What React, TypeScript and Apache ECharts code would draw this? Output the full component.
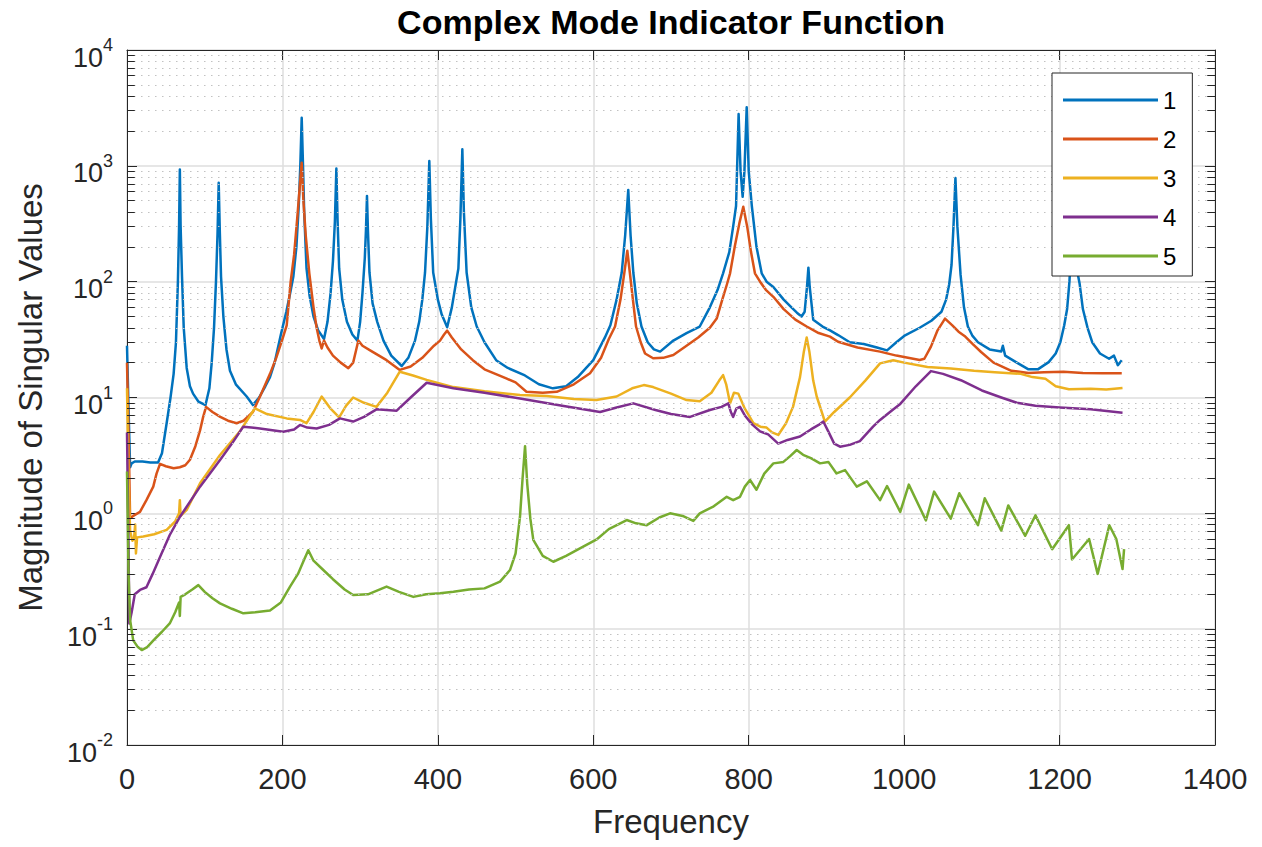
import React, { useEffect, useRef } from 'react';
import * as echarts from 'echarts';

const seriesNames = ['1', '2', '3', '4', '5'];
const seriesColors = ['#0072BD', '#D95319', '#EDB120', '#7E2F8E', '#77AC30'];

const xTickMin = 0;
const xTickMax = 1400;
const xTickStep = 200;
const yMin = 0.01;
const yMax = 10000;
const minorMultipliers = [2, 3, 4, 5, 6, 7, 8, 9];
const decadeStarts = [0.01, 0.1, 1, 10, 100, 1000];

// Singular value 1 (blue)
const sv1: [number, number][] = [
  [0, 28], [2, 8], [4, 2.5], [6, 2.7], [10, 2.8], [20, 2.8], [30, 2.75], [40, 2.75], [45, 3.3], [51, 6], [56, 10], [60, 16],
  [63, 30], [65.5, 100], [67, 300], [68, 930], [69, 300], [70.8, 110], [73, 40], [76.8, 18], [81, 12.5], [85, 10.8], [92, 9.2],
  [101, 8.6], [106, 12], [109, 20], [112, 40], [114.5, 100], [116.5, 260], [118, 715], [119.5, 260], [121, 110], [124, 50],
  [128, 26], [132.5, 17], [140, 13], [154, 10.2], [162, 8.6], [170, 10], [178, 12.5], [184, 15], [190, 20], [198, 35],
  [205, 55], [210, 80], [214, 110], [218, 200], [221, 450], [223, 1000], [224.8, 2600], [226.5, 1000], [228, 400], [231, 130],
  [235, 75], [240, 50], [246, 38], [253.5, 32], [258, 45], [262, 80], [265, 150], [267.5, 330], [269.4, 950], [271, 330],
  [273, 130], [277, 70], [283, 45], [290, 35], [296.5, 31], [300, 45], [303, 80], [306, 160], [307.5, 280], [308.8, 550],
  [310, 280], [312, 120], [316, 65], [322, 45], [330, 31], [340, 23], [353.5, 18.7], [362, 22], [370.6, 31], [376, 45],
  [380, 70], [383.5, 120], [386.5, 300], [389, 1100], [391, 350], [394, 120], [400, 70], [405, 52], [412, 40.4], [418, 60],
  [423, 95], [426.4, 130], [429, 350], [431.5, 1390], [433.5, 400], [437, 120], [443, 60], [450, 41], [460, 30], [475, 21],
  [490, 18], [512, 15.5], [530, 13], [548, 12], [565, 12.5], [580, 15], [600, 21], [615, 33], [622, 42], [630, 70],
  [636.6, 120], [641, 250], [645, 620], [648, 250], [651.5, 120], [656, 65], [662, 41], [670, 30], [678, 26], [686, 24.9],
  [703, 31], [720, 36], [737, 41], [750, 60], [760, 85], [767, 118], [775, 180], [780, 300], [783.7, 450], [787, 2800],
  [789.5, 900], [792.2, 540], [794.5, 900], [797.4, 3200], [800, 900], [804, 450], [810, 200], [816.7, 118], [823, 100],
  [831.7, 90], [845, 70], [855, 60], [862, 54], [868, 50], [872, 55], [875, 90], [876.8, 132], [878.5, 90], [883, 47],
  [895, 41], [904.6, 38], [915, 34.6], [930, 30], [948, 29], [965, 27], [978, 25.5], [990, 30], [1000, 34], [1020, 40],
  [1035, 46], [1048, 55], [1054, 70], [1058, 95], [1061, 140], [1063.5, 300], [1066, 785], [1068.5, 300], [1072.6, 115],
  [1077, 60], [1082, 41], [1088, 34], [1095, 30], [1110, 26], [1125, 25], [1127, 28], [1130, 23], [1145, 20], [1160, 17.5],
  [1172, 17.5], [1186, 20.2], [1195, 24], [1201, 30], [1206, 42], [1209.7, 58], [1212.7, 100], [1215, 200], [1217, 400],
  [1219.5, 200], [1222, 130], [1225.7, 97], [1230, 58], [1236, 40], [1242, 30], [1252, 24], [1263.7, 21.6], [1270, 23],
  [1275, 19], [1280, 21],
];

// Singular value 2 (orange)
const sv2: [number, number][] = [
  [0, 20], [2, 5], [4, 0.9], [8, 0.95], [16.7, 1.03], [25, 1.3], [33.8, 1.7], [38, 2.2], [42.5, 2.67], [50, 2.55], [60, 2.45],
  [68, 2.5], [75, 2.6], [81, 2.9], [88, 3.8], [94, 5.2], [98, 6.8], [101.7, 8.3], [110, 7.5], [120, 6.8], [130, 6.3], [141, 6],
  [150, 6.3], [162, 7.5], [172, 10.5], [184, 16], [192, 22], [200, 32], [205.5, 42], [210.6, 100], [215, 170], [219, 350],
  [222.6, 700], [224.8, 1064], [227, 500], [230, 250], [234.6, 118], [240, 60], [244, 40], [247.5, 31], [250.5, 26.5],
  [253.5, 31], [258, 27], [265, 23], [275, 20], [284.8, 17.9], [291, 20], [295, 26], [297.7, 31], [303, 28], [315, 25],
  [334, 21], [351, 17.3], [365, 18.5], [380, 22], [395, 28], [402.8, 31], [408, 35], [412, 37.8], [418, 33], [430, 26],
  [445, 21], [460, 17.5], [488, 14.6], [500, 13.5], [514, 11.2], [535, 11], [553, 11.2], [575, 13], [595.8, 16.2], [610, 22],
  [620, 32], [628, 41], [635, 70], [640, 120], [643.8, 185], [647, 120], [651, 70], [655, 41], [661, 30], [666.6, 24],
  [677, 21.8], [690, 22], [703, 23.3], [720, 28], [735, 33], [750, 40], [758.8, 48], [766, 70], [772, 95], [776, 118],
  [782, 200], [788, 320], [793, 444], [798, 300], [803, 180], [808, 118], [814.6, 100], [822, 85], [831.7, 74], [845, 58],
  [860, 47], [874.6, 41], [890, 36], [904.6, 33.5], [915, 30.3], [940, 27], [969, 24.9], [990, 23], [1005, 22], [1020, 21.1],
  [1026, 21.6], [1034.5, 27.5], [1043, 38], [1052.6, 48], [1062, 42], [1070, 37], [1077.7, 34], [1088, 29], [1099, 24.7],
  [1115, 20], [1138, 17], [1160, 16.3], [1180, 16.5], [1205, 16.7], [1230, 16.3], [1255, 16.2], [1280, 16.2],
];

// Singular value 3 (yellow)
const sv3: [number, number][] = [
  [0, 12], [2, 2], [4, 0.7], [7, 0.58], [9, 0.6], [10.5, 0.8], [11.5, 0.45], [13, 0.62], [21, 0.63], [35, 0.66], [51, 0.72],
  [62, 0.85], [67, 1.0], [68, 1.3], [69, 0.95], [76.8, 1.07], [94, 1.82], [119.7, 3.19], [145, 5.07], [164.7, 8.07], [180, 7.2],
  [205.5, 6.6], [222.6, 6.4], [231, 6.0], [240, 7.5], [250.5, 10.2], [262, 8], [273, 6.75], [282, 8.5], [291, 10], [305, 9],
  [321, 8.3], [335, 11], [351, 16.7], [368, 15.5], [385.6, 14.2], [420, 12.3], [460, 11.3], [505.7, 10.5], [540, 10.3],
  [575, 9.7], [604, 9.5], [630, 10.2], [650, 12], [665, 12.8], [677, 12.3], [700, 10.8], [720, 9.5], [737, 9.3], [752, 11],
  [762, 14], [767, 15.6], [771, 13], [776, 8.9], [781, 11], [786.6, 10.8], [795, 8], [806, 6.0], [815, 5.6], [823, 5.5],
  [830, 5.0], [838, 4.75], [848, 6], [857, 8.3], [866, 15], [871, 25], [874.6, 33], [878, 25], [883, 14], [887.5, 10.2],
  [898, 6.2], [910, 7.5], [930, 10], [950, 14], [969, 19.7], [986, 21], [1000, 20], [1030, 18.3], [1060, 17.8], [1090, 17],
  [1116.7, 16.5], [1150, 16], [1165, 15], [1181.8, 14.5], [1195, 12.5], [1212, 11.8], [1240, 11.9], [1260, 11.7], [1281, 12.1],
];

// Singular value 4 (purple)
const sv4: [number, number][] = [
  [0, 5], [2, 0.5], [3, 0.112], [6, 0.14], [10, 0.2], [16.7, 0.218], [25, 0.23], [33, 0.3], [42.5, 0.42], [55, 0.65],
  [68.2, 0.935], [94, 1.7], [119.7, 2.88], [135, 4], [149.7, 5.6], [160, 5.5], [171, 5.4], [201, 5.07], [215, 5.3],
  [222.6, 5.8], [232, 5.5], [244, 5.4], [260, 5.8], [274, 6.6], [291, 6.2], [305, 6.8], [321, 7.9], [347, 7.7], [365, 10],
  [385.6, 13.4], [420, 12], [460, 11], [505.7, 9.8], [560, 8.5], [608.7, 7.5], [630, 8.2], [651.5, 8.9], [680, 7.8], [700, 7.2],
  [724.5, 6.8], [750, 7.8], [765, 8.3], [773.8, 8.9], [777, 7.5], [780, 6.8], [784, 8.0], [788.8, 8.3], [795, 7], [805, 5.8],
  [814.6, 5.1], [825, 4.8], [838, 4.0], [850, 4.3], [866, 4.6], [880, 5.3], [890, 5.8], [896, 6.2], [903, 5], [910, 4.0],
  [917.5, 3.76], [930, 3.9], [943, 4.2], [960, 5.6], [969, 6.4], [985, 7.8], [995, 8.8], [1015, 12.5], [1034.5, 16.9],
  [1050, 16], [1073, 14.1], [1100, 11.5], [1125, 10], [1145, 9], [1169, 8.5], [1200, 8.2], [1240, 7.9], [1281, 7.4],
];

// Singular value 5 (green)
const sv5: [number, number][] = [
  [0, 2.3], [2, 0.3], [4, 0.12], [8, 0.08], [14, 0.07], [19, 0.066], [26, 0.07], [34, 0.08], [45, 0.095], [55, 0.112],
  [62, 0.14], [67, 0.17], [68, 0.13], [69, 0.19], [75, 0.2], [84, 0.22], [91.8, 0.24], [100, 0.21], [110, 0.185],
  [119.7, 0.167], [135, 0.15], [149.7, 0.137], [165, 0.14], [184, 0.145], [198, 0.17], [209.8, 0.233], [220, 0.3], [228, 0.4],
  [233.3, 0.48], [240, 0.39], [252.6, 0.324], [265, 0.27], [280, 0.22], [291, 0.197], [310, 0.2], [334, 0.233], [350, 0.21],
  [368.5, 0.19], [385, 0.2], [402.8, 0.204], [420, 0.21], [440, 0.22], [460, 0.225], [480, 0.257], [492.8, 0.324], [500, 0.45],
  [505.7, 0.935], [509, 2], [512.2, 3.8], [515, 1.8], [519, 0.9], [522.8, 0.59], [535, 0.43], [548.6, 0.382], [565, 0.43],
  [587, 0.515], [605, 0.6], [620, 0.73], [643, 0.875], [655, 0.82], [668.8, 0.79], [685, 0.92], [698.8, 1.0], [715, 0.95],
  [728.7, 0.86], [737, 1.0], [755, 1.15], [771.7, 1.39], [780, 1.3], [788.8, 1.39], [795, 1.7], [801.7, 1.94], [810, 1.6],
  [820, 2.2], [831.7, 2.7], [844.6, 2.78], [853, 3.1], [861.8, 3.52], [870, 3.2], [880, 3.0], [891.8, 2.7], [902.5, 2.78],
  [913, 2.21], [924, 2.36], [939, 1.7], [952, 1.89], [969, 1.3], [978, 1.72], [995, 1.03], [1006, 1.77], [1028, 0.87],
  [1038.6, 1.54], [1060, 0.9], [1071, 1.49], [1095, 0.79], [1103.7, 1.35], [1125, 0.71], [1134, 1.17], [1155.8, 0.64],
  [1169, 0.96], [1190.5, 0.49], [1212, 0.79], [1216, 0.4], [1238, 0.6], [1249, 0.3], [1264, 0.79], [1273, 0.6], [1281, 0.33],
  [1283, 0.49],
];

const allSeries = [sv1, sv2, sv3, sv4, sv5];

const FONT = '"Liberation Sans", Arial, Helvetica, sans-serif';
const AXIS_COLOR = '#262626';

export default function App() {
  const ref = useRef<HTMLDivElement>(null);

  useEffect(() => {
    if (!ref.current) return;
    const chart = echarts.init(ref.current, null, { renderer: 'svg' });

    const minorValues: number[] = [];
    decadeStarts.forEach((d) => minorMultipliers.forEach((m) => minorValues.push(m * d)));

    const minorTickSegments: any[] = [];
    minorValues.forEach((v) => {
      minorTickSegments.push([{ coord: [xTickMin, v] }, { coord: [xTickMin + 10, v] }]);
      minorTickSegments.push([{ coord: [xTickMax - 10, v] }, { coord: [xTickMax, v] }]);
    });

    const lineSeries = allSeries.map((data, i) => ({
      name: seriesNames[i],
      type: 'line',
      data,
      xAxisIndex: 0,
      yAxisIndex: 0,
      showSymbol: false,
      symbol: 'none',
      clip: true,
      silent: true,
      z: 3,
      itemStyle: { color: seriesColors[i] },
      lineStyle: { color: seriesColors[i], width: 2.5, join: 'round' },
      emphasis: { disabled: true },
    }));

    const option: any = {
      animation: false,
      textStyle: { fontFamily: FONT },
      color: seriesColors,
      graphic: [
        {
          type: 'text',
          x: 671,
          y: 22,
          style: {
            text: 'Complex Mode Indicator Function',
            fontSize: 34,
            fontWeight: 'bold',
            fontFamily: FONT,
            fill: '#000',
            align: 'center',
            verticalAlign: 'middle',
          },
        },
      ],
      grid: { left: 127, top: 50, width: 1088, height: 695, outerBoundsMode: 'none', containLabel: false },
      legend: {
        orient: 'vertical',
        left: 1052,
        top: 73,
        data: seriesNames.map((n) => ({ name: n, icon: 'rect' })),
        itemWidth: 95,
        itemHeight: 3,
        itemGap: 15,
        padding: [15, 16, 8, 11],
        borderColor: AXIS_COLOR,
        borderWidth: 1,
        backgroundColor: '#ffffff',
        selectedMode: false,
        textStyle: { fontSize: 24, lineHeight: 24, color: '#000', fontFamily: FONT },
        z: 10,
      },
      xAxis: [
        {
          type: 'value',
          min: xTickMin,
          max: xTickMax,
          interval: xTickStep,
          position: 'bottom',
          name: 'Frequency',
          nameLocation: 'middle',
          nameGap: 60,
          nameTextStyle: { fontSize: 33, color: AXIS_COLOR, fontFamily: FONT },
          axisLine: { show: true, onZero: false, lineStyle: { color: AXIS_COLOR, width: 1 } },
          axisTick: { show: true, inside: true, length: 10, lineStyle: { color: AXIS_COLOR, width: 1 } },
          axisLabel: {
            fontSize: 29,
            color: AXIS_COLOR,
            margin: 19,
            fontFamily: FONT,
            formatter: (v: number) => String(Math.round(v)),
          },
          splitLine: { show: true, lineStyle: { color: '#dedede', width: 1.5 } },
        },
        {
          type: 'value',
          min: xTickMin,
          max: xTickMax,
          interval: xTickStep,
          position: 'top',
          axisLine: { show: true, onZero: false, lineStyle: { color: AXIS_COLOR, width: 1 } },
          axisTick: { show: true, inside: true, length: 10, lineStyle: { color: AXIS_COLOR, width: 1 } },
          axisLabel: { show: false },
          splitLine: { show: false },
        },
      ],
      yAxis: [
        {
          type: 'log',
          logBase: 10,
          min: yMin,
          max: yMax,
          position: 'left',
          name: 'Magnitude of Singular Values',
          nameLocation: 'middle',
          nameGap: 80,
          nameTextStyle: { fontSize: 33, color: AXIS_COLOR, fontFamily: FONT },
          axisLine: { show: true, onZero: false, lineStyle: { color: AXIS_COLOR, width: 1 } },
          axisTick: { show: true, inside: true, length: 10, lineStyle: { color: AXIS_COLOR, width: 1 } },
          axisLabel: {
            margin: 14,
            color: AXIS_COLOR,
            formatter: (v: number) => {
              const e = Math.round(Math.log10(v));
              return `{b|10}{s|${e}}`;
            },
            rich: {
              b: { fontSize: 27, lineHeight: 27, padding: [15, 0, 0, 0], color: AXIS_COLOR, fontFamily: FONT, verticalAlign: 'middle' },
              s: { fontSize: 18, lineHeight: 18, padding: [0, 0, 10, 0], color: AXIS_COLOR, fontFamily: FONT, verticalAlign: 'middle' },
            },
          },
          splitLine: { show: true, lineStyle: { color: '#dedede', width: 1.5 } },
        },
        {
          type: 'log',
          logBase: 10,
          min: yMin,
          max: yMax,
          position: 'right',
          axisLine: { show: true, onZero: false, lineStyle: { color: AXIS_COLOR, width: 1 } },
          axisTick: { show: true, inside: true, length: 10, lineStyle: { color: AXIS_COLOR, width: 1 } },
          axisLabel: { show: false },
          splitLine: { show: false },
        },
      ],
      series: [
        {
          name: 'minorGrid',
          type: 'line',
          data: [],
          xAxisIndex: 0,
          yAxisIndex: 0,
          silent: true,
          z: 1,
          markLine: {
            silent: true,
            symbol: ['none', 'none'],
            label: { show: false },
            emphasis: { disabled: true },
            lineStyle: { color: '#c2c2c2', type: [1.5, 5.5], width: 1.2 },
            data: minorValues.map((v) => ({ yAxis: v })),
          },
        },
        {
          name: 'minorTicks',
          type: 'line',
          data: [],
          xAxisIndex: 0,
          yAxisIndex: 0,
          silent: true,
          z: 4,
          markLine: {
            silent: true,
            symbol: ['none', 'none'],
            label: { show: false },
            emphasis: { disabled: true },
            lineStyle: { color: AXIS_COLOR, type: 'solid', width: 1 },
            data: minorTickSegments,
          },
        },
        ...lineSeries,
      ],
    };

    chart.setOption(option);
    return () => chart.dispose();
  }, []);

  return (
    <div
      ref={ref}
      style={{ position: 'fixed', left: 0, top: 0, width: 1262, height: 847, background: '#ffffff' }}
    />
  );
}
